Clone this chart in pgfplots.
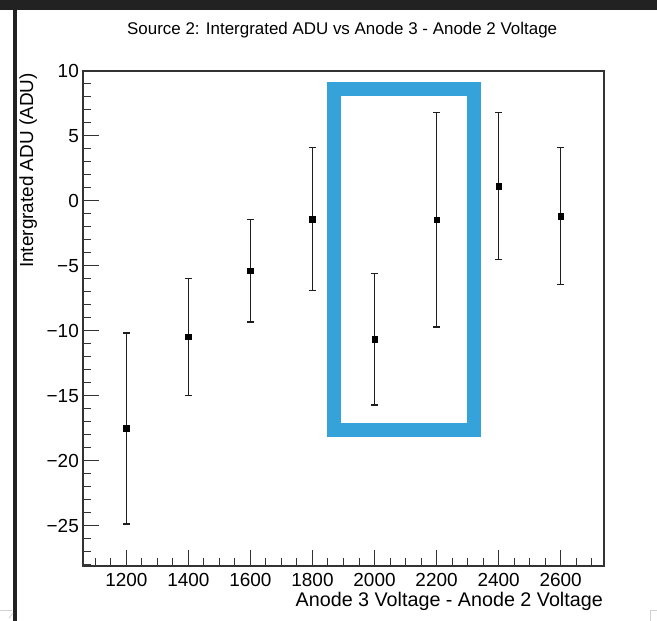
\documentclass[border=0pt]{standalone}
\usepackage{fontspec}
\setmainfont{Liberation Sans}
\usepackage{pgfplots}
\pgfplotsset{compat=1.18}
\usepackage{pgfplotstable}
\definecolor{framegray}{HTML}{333333}
\definecolor{barcolor}{HTML}{1E1E1E}
\definecolor{boxblue}{HTML}{35A3D9}
\definecolor{darkbar}{HTML}{222222}

% Integrated ADU per voltage step, symmetric errors
\pgfplotstableread{
volt  adu     err
1200  -17.5   7.35
1400  -10.45  4.5
1600  -5.35   3.95
1800  -1.4    5.5
2000  -10.65  5.05
2200  -1.45   8.25
2400   1.15   5.65
2600  -1.15   5.25
}\sourcetwo

\begin{document}
\begin{tikzpicture}
\useasboundingbox (0,0) rectangle (657bp,621bp);
% window chrome around the canvas
\fill[darkbar] (0,611bp) rectangle (657bp,621bp);
\fill[darkbar] (12.7bp,0) rectangle (17bp,611bp);
\draw[gray!35, line width=0.8bp] (0,10.3bp) -- (12bp,10.3bp);
\draw[gray!35, line width=0.8bp] (9bp,3bp) -- (13bp,8bp);
\draw[gray!35, line width=0.8bp] (650bp,0) |- (657bp,10.3bp);

\begin{axis}[
  at={(83bp,55bp)}, anchor=south west,
  scale only axis, width=521bp, height=495bp,
  xmin=1060, xmax=2740, ymin=-28.08, ymax=10,
  axis line style={framegray, line width=1.1bp},
  tick style={framegray, line width=1bp},
  tick align=inside, tick pos=left,
  major tick length=16bp, minor tick length=8bp,
  xtick={1200,1400,...,2600},
  xticklabels={1200,1400,1600,1800,2000,2200,2400,2600},
  minor xtick={1100,1150,...,2700},
  ytick={-25,-20,-15,-10,-5,0,5,10},
  yticklabels={−25,−20,−15,−10,−5,0,5,10},
  minor ytick={-28,-27,...,9},
  ticklabel style={font=\fontsize{19}{22}\selectfont, inner sep=0pt},
  xticklabel style={anchor=north, yshift=-7bp},
  yticklabel style={anchor=east, xshift=-4bp},
  clip=false,
]
\addplot[black, only marks, mark=square*, mark size=2.8bp,
  error bars/.cd, y dir=both, y explicit,
  error bar style={barcolor, line width=1.6bp},
  error mark options={rotate=90, mark size=3.5bp, line width=1.3bp, barcolor}]
  table[x=volt, y=adu, y error=err] {\sourcetwo};
% highlight box around the 2000-2200 V points
\draw[boxblue, line width=14bp] (axis cs:1869,-17.6) rectangle (axis cs:2321,8.65);
\end{axis}

\node[anchor=base west, inner sep=0pt, font=\fontsize{17}{20}\selectfont]
  at (127bp,586bp) {Source 2: Intergrated ADU vs Anode 3 - Anode 2 Voltage};
\node[anchor=base east, inner sep=0pt, rotate=90, font=\fontsize{19}{22}\selectfont]
  at (33bp,548bp) {Intergrated ADU (ADU)};
\node[anchor=base east, inner sep=0pt, font=\fontsize{19.8}{22}\selectfont]
  at (603bp,15bp) {Anode 3 Voltage - Anode 2 Voltage};
\end{tikzpicture}
\end{document}
